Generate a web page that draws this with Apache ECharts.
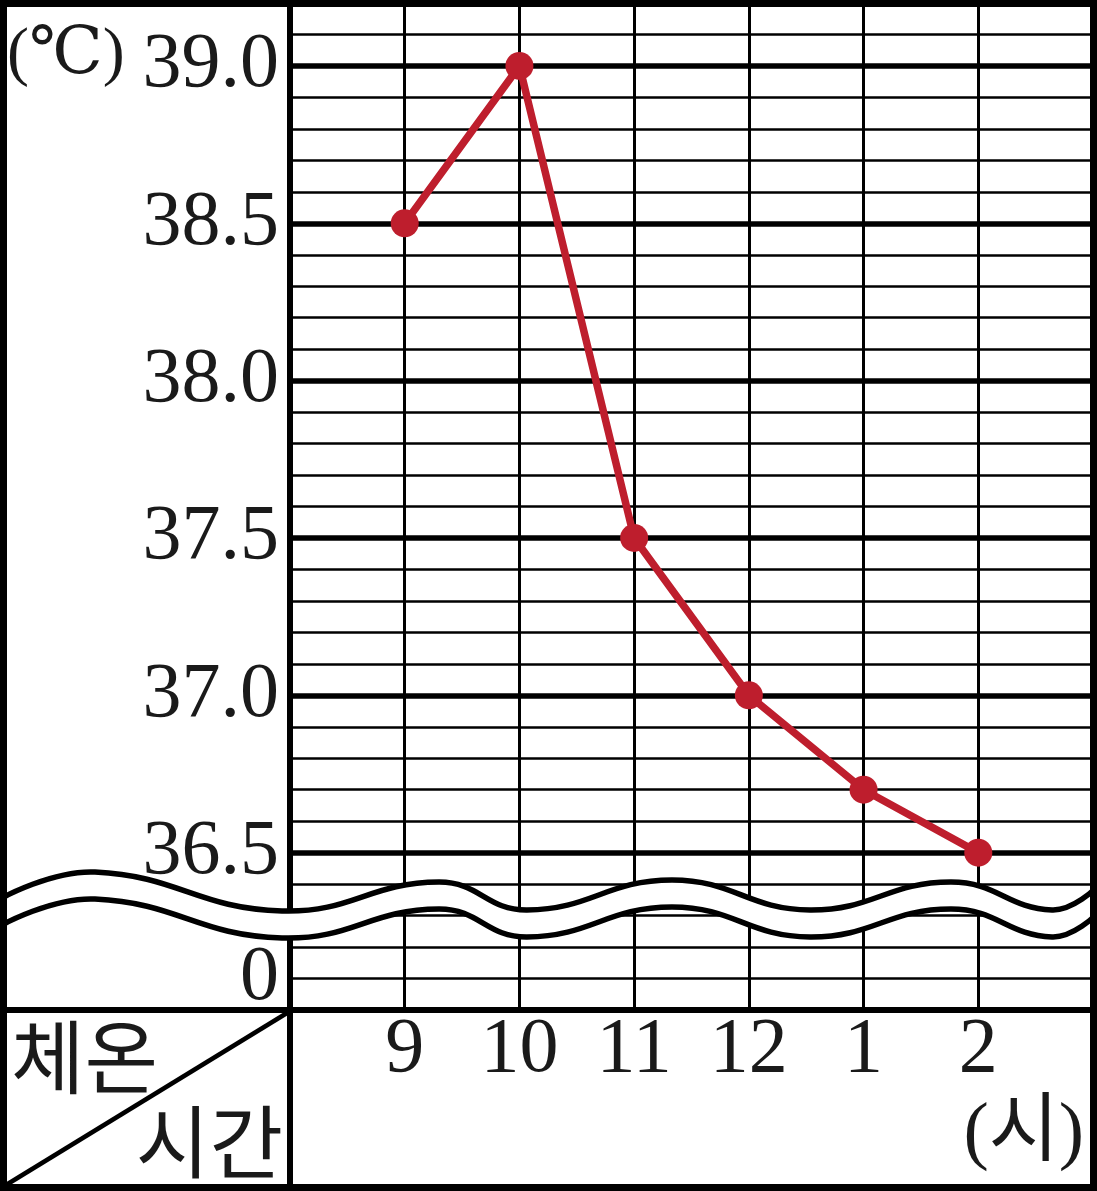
<!DOCTYPE html>
<html>
<head>
<meta charset="utf-8">
<script src="https://cdn.jsdelivr.net/npm/echarts@6/dist/echarts.min.js"></script>
<style>
html,body{margin:0;padding:0;background:#fff;}
#chart{width:1097px;height:1191px;}
</style>
</head>
<body>
<div id="chart"></div>
<script>
// ---- data ----
const hours = ['9', '10', '11', '12', '1', '2'];
const temps = [38.5, 39.0, 37.5, 37.0, 36.7, 36.5];
const yTickValues = [36.1, 36.5, 37.0, 37.5, 38.0, 38.5, 39.0];
const yTickLabels = ['0', '36.5', '37.0', '37.5', '38.0', '38.5', '39.0'];
const unitLabel = '(℃)';
const xUnitLabel = '(시)';
const cornerTop = '체온';
const cornerBottom = '시간';
const yMin = 36.0, yMax = 39.2;

const chart = echarts.init(document.getElementById('chart'));
const W = 1097, H = 1191;
const serif = "'Liberation Serif', 'DejaVu Serif', 'Noto Sans CJK KR', serif";
const kfont = "'Noto Sans CJK KR', sans-serif";
const red = '#BE1E2D';

const gridLeft = 290, gridTop = 3, gridRight = 4, gridBottom = 181;
const sepY = H - gridBottom;

// decorative break (wave) shape, pixel positions
const waveTop = [[2, 898], [95, 872], [282, 911], [439, 882], [527, 910], [672, 880], [810, 910], [951, 882], [1052, 910], [1096, 888]];
const gap = 27;
const shift = (pts, d) => pts.map(p => [p[0], p[1] + d]);

function yLabel(v) {
  for (let i = 0; i < yTickValues.length; i++) {
    if (Math.abs(v - yTickValues[i]) < 1e-6) return yTickLabels[i];
  }
  return '';
}

const option = {
  animation: false,
  backgroundColor: '#fff',
  grid: { left: gridLeft, top: gridTop, right: gridRight, bottom: gridBottom },
  xAxis: {
    type: 'category',
    boundaryGap: false,
    data: [''].concat(hours, ['']),
    axisLine: { show: true, lineStyle: { color: '#000', width: 6 } },
    axisTick: { show: false },
    axisLabel: {
      show: true, margin: 41, color: '#1a1a1a',
      fontFamily: serif, fontSize: 78, verticalAlign: 'middle',
      interval: 0
    },
    splitLine: { show: true, lineStyle: { color: '#000', width: 3 } }
  },
  yAxis: [
    {
      type: 'value', min: yMin, max: yMax, interval: 0.1,
      axisLine: { show: true, lineStyle: { color: '#000', width: 6 } },
      axisTick: { show: false },
      axisLabel: {
        show: true, margin: 11, color: '#1a1a1a',
        fontFamily: serif, fontSize: 78,
        formatter: v => yLabel(v)
      },
      splitLine: { show: true, lineStyle: { color: '#000', width: 2.5 } }
    },
    {
      type: 'value', min: yMin, max: yMax, interval: 0.5, position: 'left',
      axisLine: { show: false }, axisTick: { show: false }, axisLabel: { show: false },
      splitLine: { show: true, lineStyle: { color: '#000', width: 5.5 } }
    }
  ],
  series: [{
    type: 'line',
    yAxisIndex: 0,
    data: hours.map((h, i) => [h, temps[i]]),
    symbol: 'circle', symbolSize: 28,
    lineStyle: { color: red, width: 7.5 },
    itemStyle: { color: red },
    z: 5
  }],
  graphic: [
    // white band of the break
    { type: 'polyline', z: 10, shape: { points: shift(waveTop, gap / 2), smooth: 0.45 },
      style: { stroke: '#fff', lineWidth: gap - 1, fill: null } },
    { type: 'polyline', z: 11, shape: { points: waveTop, smooth: 0.45 },
      style: { stroke: '#000', lineWidth: 5.5, fill: null } },
    { type: 'polyline', z: 11, shape: { points: shift(waveTop, gap), smooth: 0.45 },
      style: { stroke: '#000', lineWidth: 5.5, fill: null } },
    // header row separators
    { type: 'line', z: 12, shape: { x1: gridLeft, y1: sepY, x2: gridLeft, y2: H }, style: { stroke: '#000', lineWidth: 6 } },
    { type: 'line', z: 12, shape: { x1: 0, y1: sepY, x2: gridLeft, y2: sepY }, style: { stroke: '#000', lineWidth: 6 } },
    { type: 'line', z: 12, shape: { x1: 6, y1: H - 6, x2: gridLeft - 3, y2: sepY + 3 }, style: { stroke: '#000', lineWidth: 4.5 } },
    // outer frame
    { type: 'rect', z: 20, shape: { x: 3.5, y: 3.5, width: W - 7, height: H - 7 },
      style: { stroke: '#000', lineWidth: 7, fill: null } },
    // texts
    { type: 'text', z: 15, x: 7, y: 56,
      style: { text: unitLabel, font: '66px ' + serif, fill: '#1a1a1a', textAlign: 'left', textVerticalAlign: 'middle' } },
    { type: 'text', z: 15, x: 11, y: 1057,
      style: { text: cornerTop, font: '80px ' + kfont, fill: '#1a1a1a', textAlign: 'left', textVerticalAlign: 'middle' } },
    { type: 'text', z: 15, x: 283, y: 1142,
      style: { text: cornerBottom, font: '80px ' + kfont, fill: '#1a1a1a', textAlign: 'right', textVerticalAlign: 'middle' } },
    { type: 'text', z: 15, x: 1084, y: 1135,
      style: { text: xUnitLabel, font: '76px ' + serif, fill: '#1a1a1a', textAlign: 'right', textVerticalAlign: 'middle' } }
  ]
};
chart.setOption(option);
</script>
</body>
</html>
